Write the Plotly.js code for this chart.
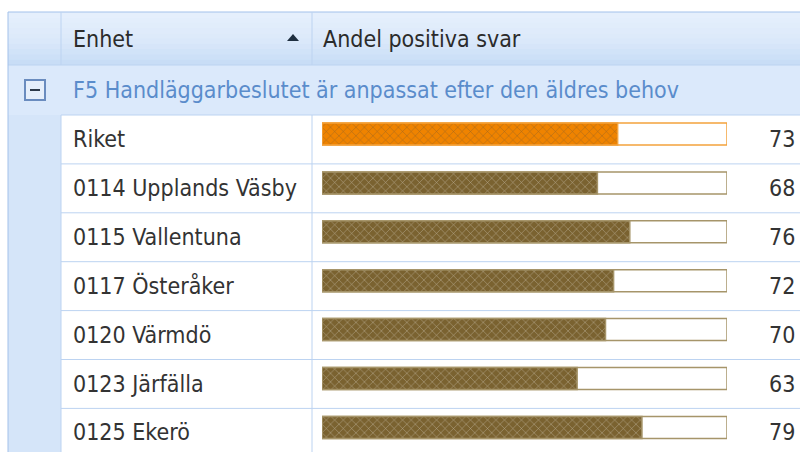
<!DOCTYPE html>
<html>
<head>
<meta charset="utf-8">
<script src="https://cdn.plot.ly/plotly-3.0.1.min.js"></script>
<style>html,body{margin:0;padding:0;background:#fff;}#chart{width:800px;height:452px;}</style>
</head>
<body>
<div id="chart"></div>
<script>
const units = ["Riket", "0114 Upplands Väsby", "0115 Vallentuna", "0117 Österåker", "0120 Värmdö", "0123 Järfälla", "0125 Ekerö"];
const values = [73, 68, 76, 72, 70, 63, 79];
const columnHeaders = ["Enhet", "Andel positiva svar"];
const groupTitle = "F5 Handläggarbeslutet är anpassat efter den äldres behov";
const maxValue = 100;

const W = 800, H = 452;
const FONT = "Tahoma, 'DejaVu Sans Condensed', 'DejaVu Sans', sans-serif";
const FS = 23;
const px = x => x / W;
const py = y => 1 - y / H;
const rowH = 48.9, firstCenter = 134;

const orange = '#EF8300', brown = '#7A6230';
const idx = units.map((u, i) => i);

const bgTrace = {
  type: 'bar', orientation: 'h', y: units, x: units.map(() => maxValue),
  width: 0.45, hoverinfo: 'skip',
  marker: {color: '#ffffff', line: {color: idx.map(i => i === 0 ? '#F3A23C' : '#A6956A'), width: 1.5}}
};
const valTrace = {
  type: 'bar', orientation: 'h', y: units, x: values,
  width: 0.45,
  marker: {
    color: idx.map(i => i === 0 ? orange : brown),
    line: {color: idx.map(i => i === 0 ? '#F3A23C' : '#A6956A'), width: 1.5},
    pattern: {shape: 'x', fgcolor: idx.map(i => i === 0 ? '#F29A1A' : '#7F7434'), size: 6, solidity: 0.15, fillmode: 'overlay'}
  }
};

const shapes = [];
function rect(x0, y0, x1, y1, fill, line, lw) {
  shapes.push({type: 'rect', xref: 'paper', yref: 'paper', x0: px(x0), x1: px(x1), y0: py(y0), y1: py(y1),
    fillcolor: fill, line: {width: line ? (lw || 1) : 0, color: line || fill}, layer: 'below'});
}
function hline(y, x0, x1, c) {
  shapes.push({type: 'line', xref: 'paper', yref: 'paper', x0: px(x0), x1: px(x1), y0: py(y), y1: py(y), line: {color: c, width: 1}, layer: 'below'});
}
function vline(x, y0, y1, c) {
  shapes.push({type: 'line', xref: 'paper', yref: 'paper', x0: px(x), x1: px(x), y0: py(y0), y1: py(y1), line: {color: c, width: 1}, layer: 'below'});
}
// header gradient
const g0 = [229, 239, 252], g1 = [200, 221, 246];
const steps = 10;
for (let s = 0; s < steps; s++) {
  const t = s / (steps - 1);
  const c = g0.map((v, k) => Math.round(v + (g1[k] - v) * (t < 0.5 ? t * 0.6 : 0.3 + (t - 0.5) * 1.4)));
  const y0 = 12 + s * (53 / steps), y1 = 12 + (s + 1) * (53 / steps);
  rect(8, y0, 800, y1 + 0.5, `rgb(${c.join(',')})`);
}
// group row
rect(8, 65, 800, 115, '#DBE9FB');
// left column
rect(8, 115, 61, 452, '#D5E5F9');
// grid lines
const gridC = '#BCD3F1', outerC = '#A3C1EA';
hline(12, 8, 800, outerC);
hline(65, 8, 800, gridC);
for (let i = 0; i < units.length; i++) {
  hline(firstCenter - 19 + rowH * i, 61, 800, gridC);
}
vline(8, 12, 452, outerC);
vline(61, 12, 65, gridC);
vline(61, 115, 452, gridC);
vline(312, 12, 65, gridC);
vline(312, 115, 452, gridC);
// minus box
rect(25, 80, 45, 100, '#E6EFFB', '#6A8CBF', 2);
shapes.push({type: 'line', xref: 'paper', yref: 'paper', x0: px(30), x1: px(40), y0: py(90), y1: py(90), line: {color: '#2E3A4A', width: 2}});
// sort arrow
shapes.push({type: 'path', xref: 'paper', yref: 'paper',
  path: `M ${px(287)} ${py(41)} L ${px(299)} ${py(41)} L ${px(293)} ${py(34)} Z`,
  fillcolor: '#1F2F40', line: {width: 0}});

const annotations = [];
function txt(x, y, text, color, size, anchor) {
  annotations.push({xref: 'paper', yref: 'paper', x: px(x), y: py(y), text: text, showarrow: false,
    xanchor: anchor || 'left', yanchor: 'middle', font: {family: FONT, size: size, color: color}});
}
txt(71, 39, columnHeaders[0], '#2B2B2B', FS);
txt(321, 39, columnHeaders[1], '#2B2B2B', FS);
txt(71, 90, groupTitle, '#5A8CCB', FS);
units.forEach((u, i) => {
  annotations.push({xref: 'paper', yref: 'y', x: px(71), y: u, yshift: -5, text: u, showarrow: false,
    xanchor: 'left', yanchor: 'middle', font: {family: FONT, size: FS, color: '#333333'}});
  annotations.push({xref: 'paper', yref: 'y', x: px(797), y: u, yshift: -5, text: String(values[i]), showarrow: false,
    xanchor: 'right', yanchor: 'middle', font: {family: FONT, size: FS, color: '#333333'}});
});

const layout = {
  width: W, height: H, margin: {l: 0, r: 0, t: 0, b: 0},
  paper_bgcolor: '#ffffff', plot_bgcolor: 'rgba(0,0,0,0)',
  barmode: 'overlay', showlegend: false,
  xaxis: {domain: [px(322), px(727)], range: [0, maxValue], visible: false, fixedrange: true},
  yaxis: {type: 'category', range: [(H - firstCenter) / rowH, -firstCenter / rowH], visible: false, fixedrange: true},
  shapes: shapes, annotations: annotations
};
Plotly.newPlot('chart', [bgTrace, valTrace], layout, {displayModeBar: false, staticPlot: true});
</script>
</body>
</html>
